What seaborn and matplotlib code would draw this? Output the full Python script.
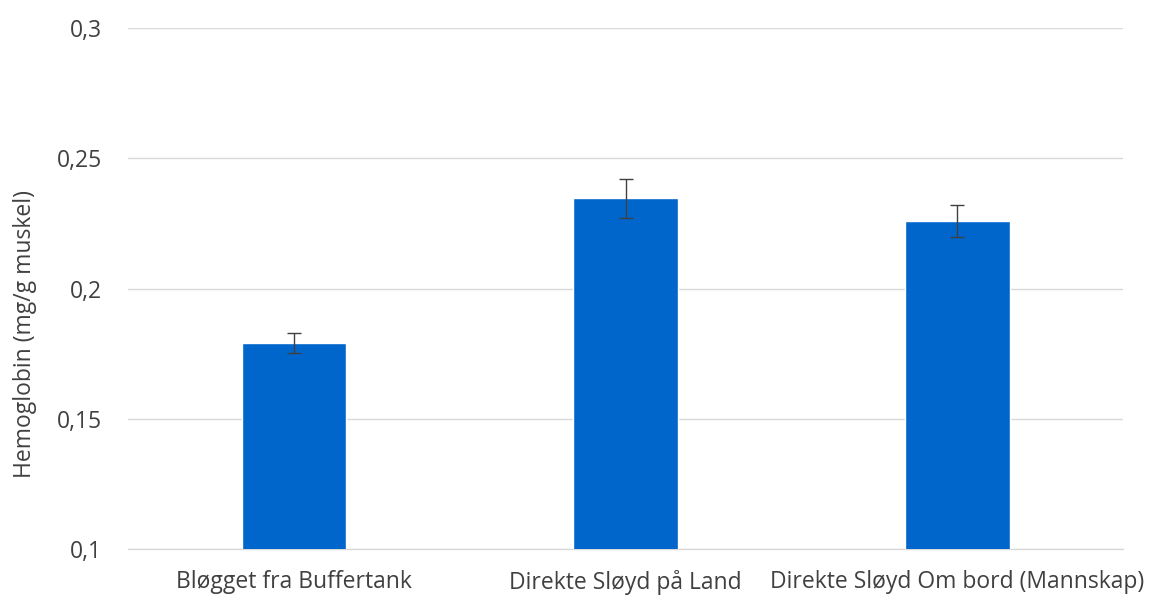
import matplotlib
matplotlib.use("Agg")
import matplotlib.pyplot as plt
import seaborn as sns
import pandas as pd
from matplotlib.ticker import FuncFormatter

categories = ["Bløgget fra Buffertank", "Direkte Sløyd på Land", "Direkte Sløyd Om bord (Mannskap)"]
hemoglobin = [0.1791, 0.2346, 0.2259]
errors = [0.0040, 0.0074, 0.0061]

df = pd.DataFrame({"kategori": categories, "hemoglobin": hemoglobin})

sns.set_theme(style="white")
plt.rcParams["font.family"] = ["Open Sans", "DejaVu Sans"]

fig = plt.figure(figsize=(11.51, 5.99), dpi=100)
ax = fig.add_axes([0.111, 0.0835, 0.865, 0.8695])

sns.barplot(data=df, x="kategori", y="hemoglobin", color="#0066CC",
            saturation=1, width=0.314, ax=ax, zorder=3)
ax.errorbar(range(len(categories)), hemoglobin, yerr=errors, fmt="none",
            ecolor="#404040", elinewidth=1, capsize=5, capthick=1, zorder=4)

ax.set_ylim(0.1, 0.3)
ax.set_xlim(-0.5, 2.5)
ax.set_yticks([0.1, 0.15, 0.2, 0.25, 0.3])
ax.yaxis.set_major_formatter(FuncFormatter(lambda v, p: f"{v:g}".replace(".", ",")))
ax.grid(axis="y", color="#D9D9D9", linewidth=1, zorder=0)
ax.set_axisbelow(True)
for s in ["top", "right", "left"]:
    ax.spines[s].set_visible(False)
ax.spines["bottom"].set_color("#D9D9D9")
ax.spines["bottom"].set_linewidth(1)
ax.tick_params(axis="both", length=0, labelsize=16.5, colors="#404040")
ax.tick_params(axis="y", pad=18.5)
ax.tick_params(axis="x", pad=15)
ax.set_xlabel("")
ax.set_ylabel("Hemoglobin (mg/g muskel)", fontsize=16.5, color="#404040", va="center")
ax.yaxis.set_label_coords(-0.1035, 0.413)

fig.savefig("out.png", dpi=100)
